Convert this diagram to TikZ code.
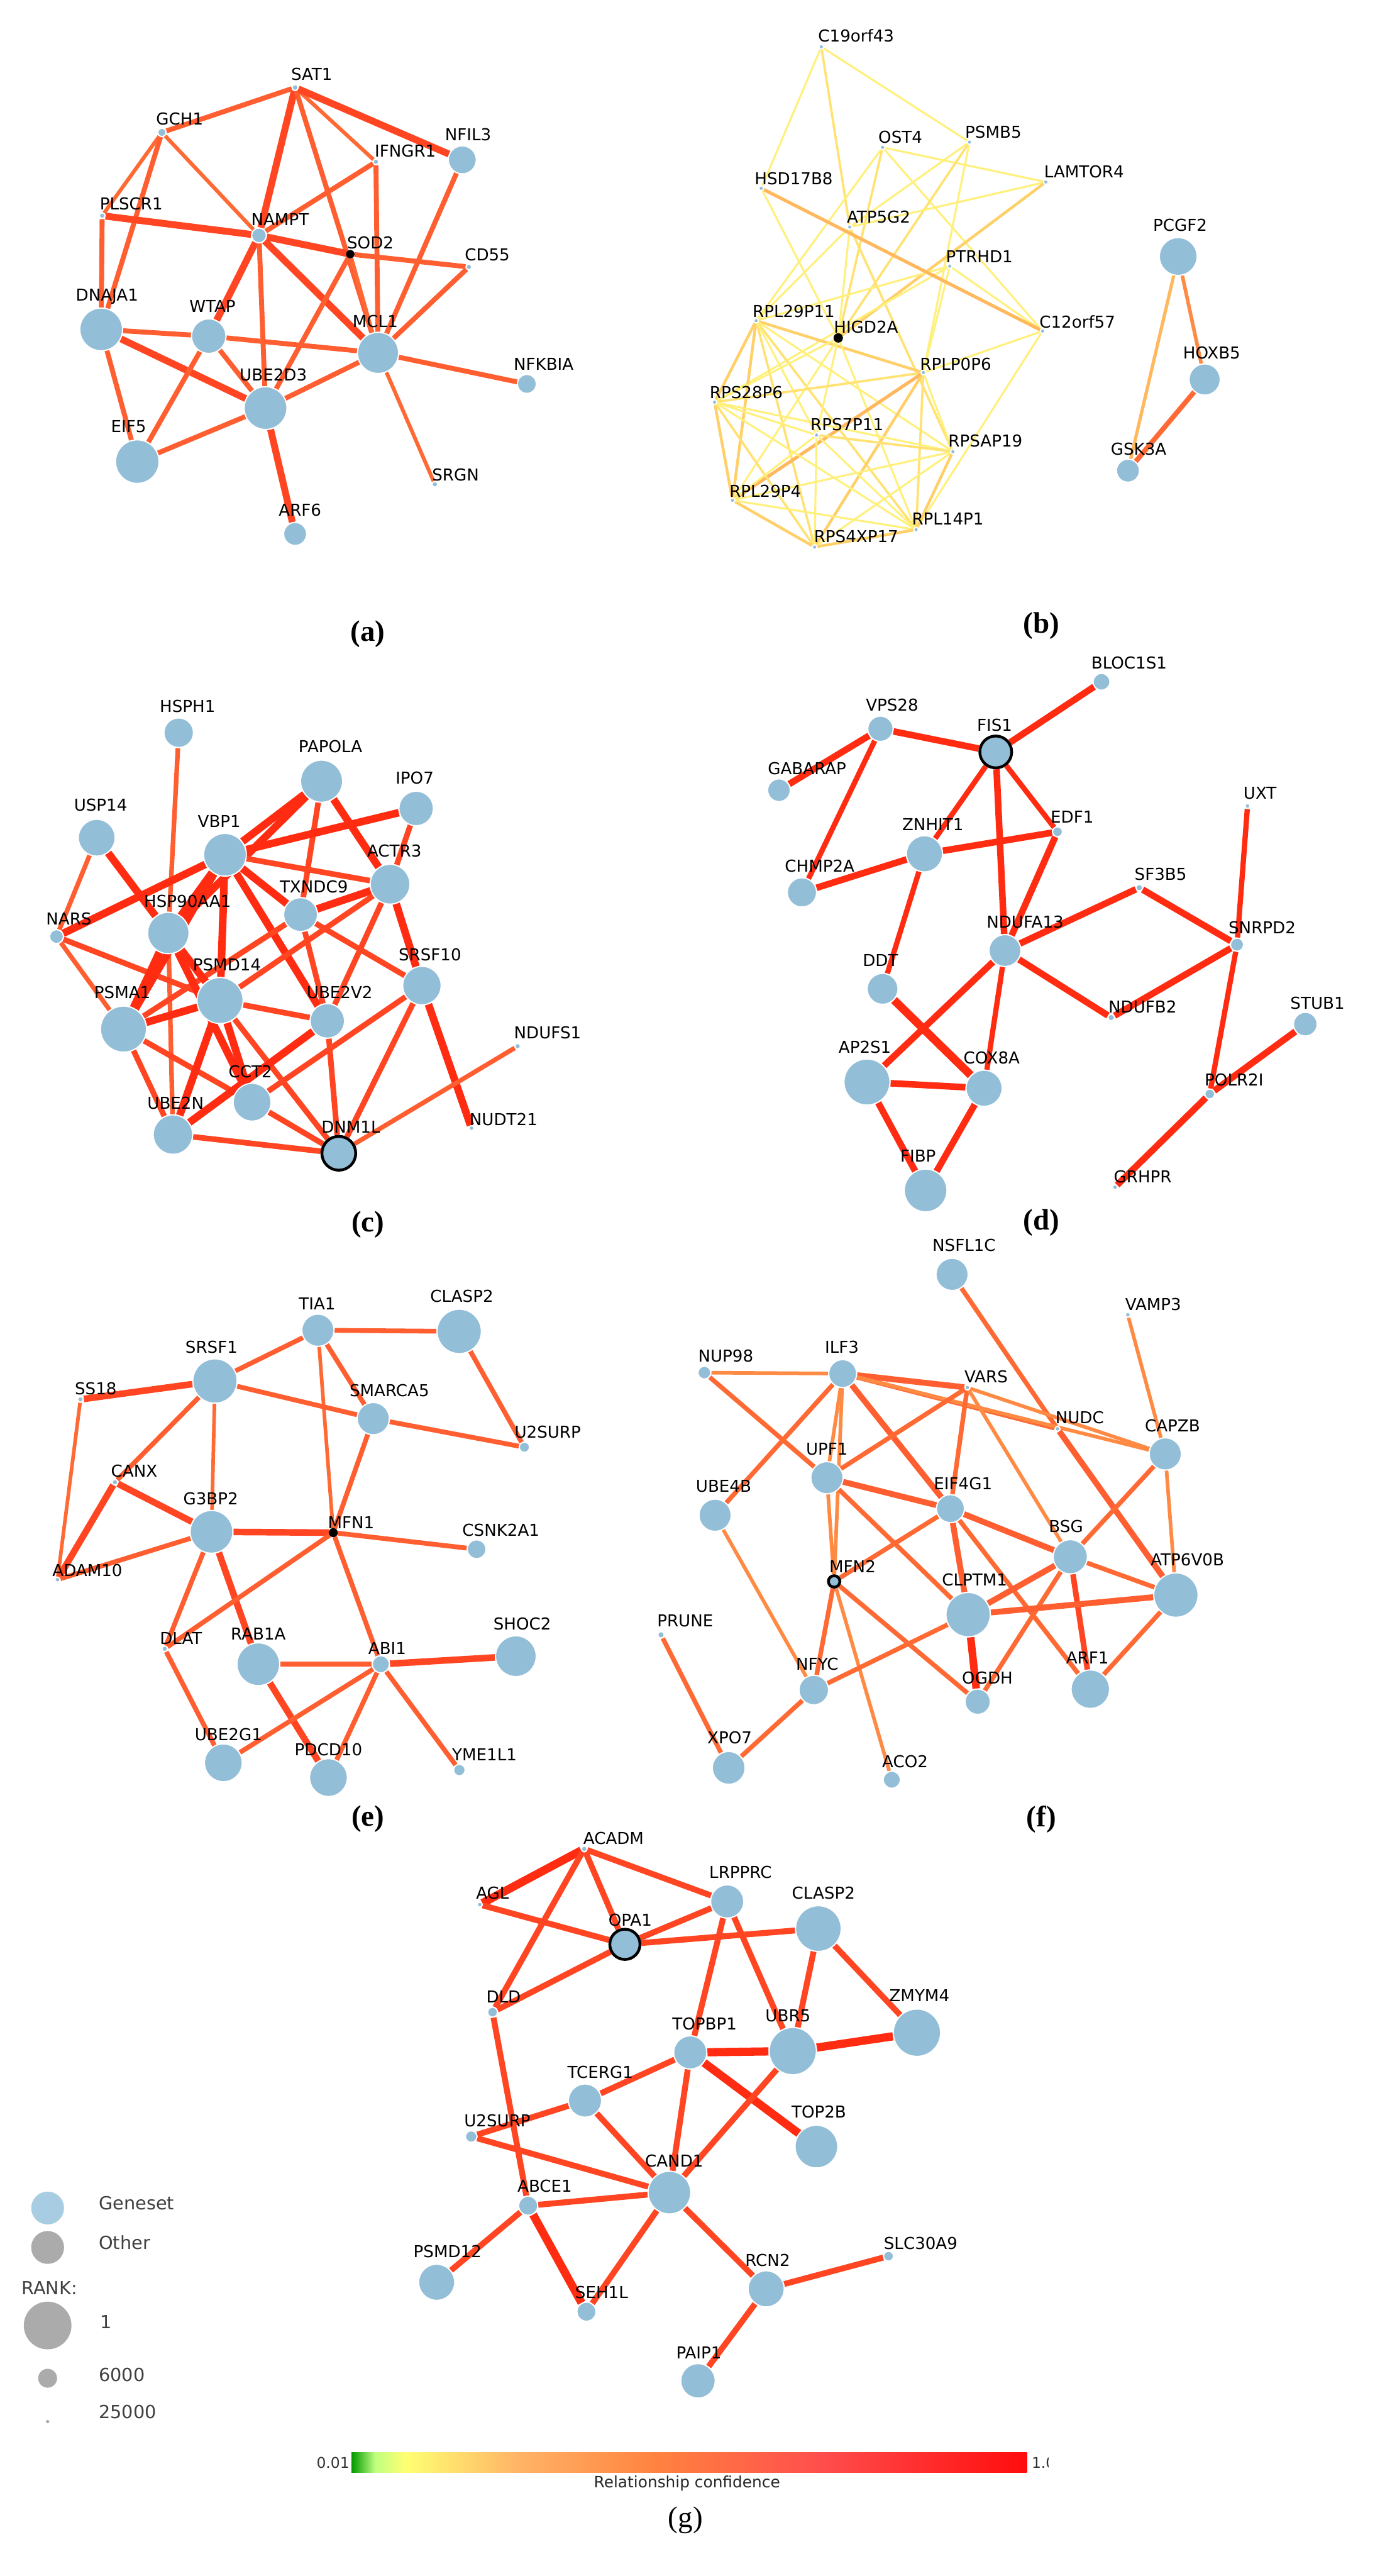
\documentclass[tikz,border=0pt]{standalone}
\usepackage{fontspec}
\setmainfont{DejaVu Sans}
\newfontfamily\panelfont{Liberation Serif}
\usetikzlibrary{backgrounds}
\pgfdeclarelayer{edgelayer}
\pgfsetlayers{background,edgelayer,main}
\definecolor{nodeblue}{HTML}{93BED8}
\definecolor{leggray}{HTML}{ABABAB}
\definecolor{legblue}{HTML}{A8CDE3}
\definecolor{rA}{HTML}{FF2C12}
\definecolor{rB}{HTML}{FF4522}
\definecolor{rC}{HTML}{FF5E30}
\definecolor{oA}{HTML}{FF6A34}
\definecolor{oB}{HTML}{FF8A44}
\definecolor{yA}{HTML}{FFF07C}
\definecolor{yB}{HTML}{FFE272}
\definecolor{yC}{HTML}{FFCF68}
\definecolor{yD}{HTML}{FFB85E}
\pgfdeclarehorizontalshading{confbar}{100bp}{color(0bp)=(green!60!black); color(25bp)=(green!60!black); color(26.75bp)=(yellow!50!green!50!white); color(29bp)=(yellow!55!white); color(37.5bp)=(orange!60!white); color(47.5bp)=(orange!70!red!75!white); color(60bp)=(red!70!white); color(75bp)=(red!95!white); color(100bp)=(red!95!white)}
\tikzset{
  gn/.style={circle, inner sep=0pt, fill=nodeblue, draw=white, line width=0.7pt},
  gk/.style={circle, inner sep=0pt, fill=black, draw=black, line width=0.5pt},
  gr/.style={circle, inner sep=0pt, fill=nodeblue, draw=black, line width=1.7pt},
  lbl/.style={inner sep=0pt, font=\fontsize{10}{11}\selectfont, text height=7.3pt, text depth=0pt},
  plab/.style={inner sep=0pt, font=\panelfont\bfseries\fontsize{18}{20}\selectfont},
  A1/.style={draw=rB, line width=4.2pt}, A2/.style={draw=rC, line width=3.0pt}, A3/.style={draw=oA, line width=2.3pt},
  B1/.style={draw=yA, line width=1.2pt}, B2/.style={draw=yB, line width=1.4pt}, B3/.style={draw=yC, line width=1.7pt}, B4/.style={draw=yD, line width=2.0pt},
  C1/.style={draw=rA, line width=4.6pt}, C2/.style={draw=rB, line width=3.4pt}, C3/.style={draw=rC, line width=2.8pt},
  D1/.style={draw=rA, line width=4.0pt}, D2/.style={draw=rA, line width=3.2pt},
  E1/.style={draw=rB, line width=4.0pt}, E2/.style={draw=rC, line width=2.9pt}, E3/.style={draw=oA, line width=2.2pt},
  F1/.style={draw=rC, line width=3.6pt}, F2/.style={draw=oA, line width=2.8pt}, F3/.style={draw=oB, line width=2.2pt},
  G1/.style={draw=rA, line width=5.0pt}, G2/.style={draw=rB, line width=3.6pt},
  legtext/.style={inner sep=0pt, anchor=west, text=black!75, font=\fontsize{11}{12}\selectfont}
}
\newcommand{\gnd}[8]{\node[#2, minimum size=#5pt] (#1) at (#3,#4) {};\node[lbl] (#1-l) at (#6,#7) {#8};}
\begin{document}
\begin{tikzpicture}[x=1pt,y=-1pt]
\begin{pgfonlayer}{background}
\fill[white] (0,0) rectangle (840,1568);
\end{pgfonlayer}
\path[use as bounding box] (0,0) rectangle (840,1568);
% ---------------- panel (a)
\gnd{SAT1}{gn}{179.7}{53.3}{3.6}{189.8}{45.2}{SAT1}
\gnd{GCH1}{gn}{98.6}{80.6}{5}{109.4}{72.3}{GCH1}
\gnd{NFIL3}{gn}{281.5}{97.3}{17}{285}{81.8}{NFIL3}
\gnd{IFNGR1}{gn}{228.9}{98.5}{3.4}{246.8}{92}{IFNGR1}
\gnd{PLSCR1}{gn}{62.2}{131.3}{3.4}{79.9}{124.2}{PLSCR1}
\gnd{NAMPT}{gn}{157.7}{143.3}{9}{170.5}{133.4}{NAMPT}
\gnd{SOD2}{gk}{213.3}{154.7}{4.6}{225.5}{147.6}{SOD2}
\gnd{CD55}{gn}{285.5}{162.5}{3.4}{296.7}{155.1}{CD55}
\gnd{DNAJA1}{gn}{61.6}{200.5}{26}{65.2}{179.6}{DNAJA1}
\gnd{WTAP}{gn}{127.1}{204.6}{21}{129.4}{186.3}{WTAP}
\gnd{MCL1}{gn}{230.2}{214.8}{25}{228.5}{195.5}{MCL1}
\gnd{NFKBIA}{gn}{320.8}{233.7}{11.5}{331}{221.5}{NFKBIA}
\gnd{UBE2D3}{gn}{161.7}{248.4}{26}{166.4}{228}{UBE2D3}
\gnd{EIF5}{gn}{83.6}{281}{26.5}{78.3}{259.6}{EIF5}
\gnd{SRGN}{gn}{264.8}{294.8}{3.4}{277.4}{289}{SRGN}
\gnd{ARF6}{gn}{179.7}{325}{14}{182.7}{310.5}{ARF6}
\begin{pgfonlayer}{edgelayer}
\draw[A2] (SAT1)--(GCH1); \draw[A1] (SAT1)--(NAMPT); \draw[A2] (SAT1)--(MCL1);
\draw[A3] (SAT1)--(IFNGR1); \draw[A1] (SAT1)--(NFIL3); \draw[A3] (GCH1)--(PLSCR1);
\draw[A2] (GCH1)--(DNAJA1); \draw[A3] (GCH1)--(NAMPT); \draw[A2] (IFNGR1)--(NAMPT);
\draw[A2] (IFNGR1)--(MCL1); \draw[A2] (NFIL3)--(MCL1); \draw[A1] (PLSCR1)--(NAMPT);
\draw[A2] (PLSCR1)--(DNAJA1); \draw[A1] (NAMPT)--(SOD2); \draw[A2] (SOD2)--(CD55);
\draw[A1] (NAMPT)--(WTAP); \draw[A2] (NAMPT)--(UBE2D3); \draw[A1] (NAMPT)--(MCL1);
\draw[A2] (SOD2)--(UBE2D3); \draw[A3] (SOD2)--(MCL1); \draw[A2] (CD55)--(MCL1);
\draw[A2] (DNAJA1)--(WTAP); \draw[A1] (DNAJA1)--(UBE2D3); \draw[A2] (DNAJA1)--(EIF5);
\draw[A2] (WTAP)--(MCL1); \draw[A2] (WTAP)--(UBE2D3); \draw[A2] (WTAP)--(EIF5);
\draw[A2] (MCL1)--(UBE2D3); \draw[A2] (MCL1)--(NFKBIA); \draw[A3] (MCL1)--(SRGN);
\draw[A2] (UBE2D3)--(EIF5); \draw[A1] (UBE2D3)--(ARF6);
\end{pgfonlayer}
% ---------------- panel (b)
\gnd{C19}{gn}{500.1}{28.5}{2.8}{521.3}{21.7}{C19orf43}
\gnd{OST4}{gn}{537.4}{89.7}{2.8}{548.2}{83.3}{OST4}
\gnd{PSMB5}{gn}{590.3}{86.5}{2.8}{604.8}{80.2}{PSMB5}
\gnd{HSD}{gn}{463.5}{114.6}{2.8}{483.3}{108.7}{HSD17B8}
\gnd{LAMTOR4}{gn}{636.8}{110.8}{2.8}{660.1}{104.4}{LAMTOR4}
\gnd{ATP5G2}{gn}{517.4}{138.2}{2.8}{535}{131.9}{ATP5G2}
\gnd{PTRHD1}{gn}{578.3}{162}{2.8}{596.3}{156.1}{PTRHD1}
\gnd{PCGF2}{gn}{717.4}{156.1}{23}{718.6}{137.2}{PCGF2}
\gnd{RPL29P11}{gn}{460.4}{195.2}{2.8}{483.3}{189.3}{RPL29P11}
\gnd{HIGD2A}{gk}{510.4}{205.7}{5.2}{527.3}{199}{HIGD2A}
\gnd{C12}{gn}{634.8}{201.5}{2.8}{656}{195.8}{C12orf57}
\gnd{RPLP0P6}{gn}{562.2}{226.8}{2.8}{581.9}{221.6}{RPLP0P6}
\gnd{HOXB5}{gn}{733.5}{231}{19}{737.8}{214.6}{HOXB5}
\gnd{RPS28P6}{gn}{435.1}{244.8}{2.8}{454.4}{238.9}{RPS28P6}
\gnd{RPS7P11}{gn}{497.2}{264.8}{2.8}{515.7}{258.5}{RPS7P11}
\gnd{RPSAP19}{gn}{580.2}{274.9}{2.8}{600}{268.4}{RPSAP19}
\gnd{GSK3A}{gn}{686.8}{286.5}{14}{693.3}{273.5}{GSK3A}
\gnd{RPL29P4}{gn}{446}{304.5}{2.8}{466}{298.8}{RPL29P4}
\gnd{RPL14P1}{gn}{557.8}{322.4}{2.8}{577.1}{315.9}{RPL14P1}
\gnd{RPS4XP17}{gn}{496}{333}{2.8}{521.3}{326.6}{RPS4XP17}
\begin{pgfonlayer}{edgelayer}
\draw[B1] (C19)--(HSD); \draw[B1] (C19)--(PSMB5); \draw[B2] (C19)--(ATP5G2);
\draw[B1] (OST4)--(LAMTOR4); \draw[B1] (OST4)--(RPL29P11); \draw[B2] (OST4)--(HIGD2A);
\draw[B1] (OST4)--(C12); \draw[B1] (PSMB5)--(ATP5G2); \draw[B2] (PSMB5)--(HIGD2A);
\draw[B1] (PSMB5)--(RPLP0P6); \draw[B1] (LAMTOR4)--(ATP5G2); \draw[B3] (LAMTOR4)--(HIGD2A);
\draw[B1] (ATP5G2)--(RPL29P11); \draw[B1] (ATP5G2)--(HIGD2A); \draw[B2] (ATP5G2)--(RPSAP19);
\draw[B1] (PTRHD1)--(RPL29P11); \draw[B1] (PTRHD1)--(C12); \draw[B1] (PTRHD1)--(RPLP0P6);
\draw[B1] (PTRHD1)--(RPS28P6); \draw[B1] (C12)--(RPLP0P6); \draw[B1] (C12)--(RPL14P1);
\draw[B4] (HSD)--(C12); \draw[B1] (HSD)--(HIGD2A);
\draw[B3] (RPL29P11)--(RPLP0P6); \draw[B3] (RPL29P11)--(RPS28P6); \draw[B3] (RPL29P11)--(RPL29P4);
\draw[B2] (RPL29P11)--(RPS4XP17); \draw[B1] (RPL29P11)--(RPSAP19); \draw[B2] (RPL29P11)--(RPL14P1);
\draw[B1] (RPL29P11)--(RPS7P11); \draw[B1] (HIGD2A)--(RPS7P11); \draw[B1] (HIGD2A)--(RPL14P1);
\draw[B1] (HIGD2A)--(RPL29P4); \draw[B1] (HIGD2A)--(RPS28P6);
\draw[B2] (RPLP0P6)--(RPS28P6); \draw[B4] (RPLP0P6)--(RPL29P4); \draw[B3] (RPLP0P6)--(RPS4XP17);
\draw[B2] (RPLP0P6)--(RPL14P1); \draw[B1] (RPLP0P6)--(RPSAP19);
\draw[B1] (RPS28P6)--(RPS7P11); \draw[B1] (RPS28P6)--(RPSAP19); \draw[B3] (RPS28P6)--(RPL29P4);
\draw[B2] (RPS28P6)--(RPS4XP17); \draw[B1] (RPS28P6)--(RPL14P1);
\draw[B2] (RPS7P11)--(RPSAP19); \draw[B1] (RPS7P11)--(RPL29P4); \draw[B1] (RPS7P11)--(RPS4XP17);
\draw[B1] (RPS7P11)--(RPL14P1); \draw[B1] (RPSAP19)--(RPL29P4); \draw[B1] (RPSAP19)--(RPS4XP17);
\draw[B3] (RPSAP19)--(RPL14P1); \draw[B3] (RPL29P4)--(RPS4XP17); \draw[B1] (RPL29P4)--(RPL14P1);
\draw[B3] (RPS4XP17)--(RPL14P1);
\draw[B4] (PCGF2)--(GSK3A); \draw[draw=oB, line width=2.2pt] (PCGF2)--(HOXB5);
\draw[draw=oA, line width=3pt] (HOXB5)--(GSK3A);
\end{pgfonlayer}
% ---------------- panel (c)
\gnd{HSPH1}{gn}{108.8}{446.0}{18}{114.2}{430.0}{HSPH1}
\gnd{PAPOLA}{gn}{195.8}{475.5}{25.6}{201.2}{454.2}{PAPOLA}
\gnd{IPO7}{gn}{253.4}{492.1}{21}{252.5}{473.7}{IPO7}
\gnd{USP14}{gn}{58.9}{509.9}{22.4}{61.3}{490}{USP14}
\gnd{VBP1}{gn}{137.0}{520.3}{26}{133.5}{500.1}{VBP1}
\gnd{ACTR3}{gn}{237.5}{538.2}{24.2}{240.1}{518.1}{ACTR3}
\gnd{TXNDC9}{gn}{183.0}{556.7}{20.6}{191.1}{539.8}{TXNDC9}
\gnd{NARS}{gn}{34.4}{570.1}{8.4}{41.9}{559.2}{NARS}
\gnd{HSP90AA1}{gn}{102.5}{567.9}{25.2}{114.2}{548.4}{HSP90AA1}
\gnd{SRSF10}{gn}{256.9}{599.9}{23.4}{261.8}{580.9}{SRSF10}
\gnd{PSMD14}{gn}{134.0}{609.0}{28}{138.2}{587.4}{PSMD14}
\gnd{PSMA1}{gn}{75.2}{626.4}{28}{74.5}{604.1}{PSMA1}
\gnd{UBE2V2}{gn}{199.3}{621.4}{21}{206.8}{604.1}{UBE2V2}
\gnd{NDUFS1}{gn}{315.2}{636.8}{3.4}{333.4}{628.5}{NDUFS1}
\gnd{CCT2}{gn}{153.5}{670.9}{23}{152.4}{652.3}{CCT2}
\gnd{UBE2N}{gn}{105.3}{690.6}{24}{106.9}{671.5}{UBE2N}
\gnd{DNM1L}{gr}{206.3}{702.0}{20.6}{213.6}{686.0}{DNM1L}
\gnd{NUDT21}{gn}{287.1}{686.7}{3}{306.6}{681.3}{NUDT21}
\begin{pgfonlayer}{edgelayer}
\draw[C3] (HSPH1)--(HSP90AA1); \draw[C3] (HSP90AA1)--(UBE2N); \draw[C3] (USP14)--(NARS);
\draw[C1] (USP14)--(HSP90AA1); \draw[C1] (NARS)--(VBP1); \draw[C2] (NARS)--(PSMD14);
\draw[C3] (NARS)--(PSMA1); \draw[C1] (PAPOLA)--(VBP1); \draw[C1] (PAPOLA)--(HSP90AA1);
\draw[C2] (PAPOLA)--(TXNDC9); \draw[C1] (PAPOLA)--(ACTR3); \draw[C1] (VBP1)--(IPO7);
\draw[C2] (VBP1)--(ACTR3); \draw[C1] (VBP1)--(HSP90AA1); \draw[C1] (VBP1)--(PSMD14);
\draw[C1] (VBP1)--(TXNDC9); \draw[C1] (VBP1)--(UBE2V2); \draw[C1] (VBP1)--(PSMA1);
\draw[C2] (IPO7)--(ACTR3); \draw[C1] (ACTR3)--(TXNDC9); \draw[C2] (ACTR3)--(PSMD14);
\draw[C2] (ACTR3)--(UBE2V2); \draw[C1] (ACTR3)--(SRSF10); \draw[C2] (TXNDC9)--(PSMA1);
\draw[C2] (TXNDC9)--(SRSF10); \draw[C2] (TXNDC9)--(UBE2V2); \draw[C1] (HSP90AA1)--(PSMA1);
\draw[C1] (HSP90AA1)--(PSMD14); \draw[C1] (HSP90AA1)--(CCT2); \draw[C1] (PSMA1)--(PSMD14);
\draw[C2] (PSMA1)--(UBE2N); \draw[C2] (PSMA1)--(CCT2); \draw[C2] (PSMD14)--(UBE2V2);
\draw[C1] (PSMD14)--(UBE2N); \draw[C1] (PSMD14)--(CCT2); \draw[C2] (PSMD14)--(DNM1L);
\draw[C1] (UBE2V2)--(UBE2N); \draw[C2] (UBE2V2)--(DNM1L); \draw[C2] (SRSF10)--(CCT2);
\draw[C2] (SRSF10)--(DNM1L); \draw[C1] (SRSF10)--(NUDT21); \draw[C3] (NDUFS1)--(DNM1L);
\draw[C2] (UBE2N)--(DNM1L); \draw[C2] (CCT2)--(DNM1L);
\end{pgfonlayer}
% ---------------- panel (d)
\gnd{BLOC1S1}{gn}{670.7}{415.0}{10.2}{687.5}{403.3}{BLOC1S1}
\gnd{VPS28}{gn}{536.1}{443.6}{15.4}{543.2}{429.1}{VPS28}
\gnd{FIS1}{gr}{606.3}{457.7}{19.4}{605.6}{441.4}{FIS1}
\gnd{GABARAP}{gn}{474.3}{481.0}{13.8}{491.4}{467.6}{GABARAP}
\gnd{UXT}{gn}{759.6}{490.6}{3}{767.2}{482.8}{UXT}
\gnd{EDF1}{gn}{643.9}{506.3}{6}{652.8}{497.4}{EDF1}
\gnd{ZNHIT1}{gn}{562.9}{519.7}{22}{568.0}{501.8}{ZNHIT1}
\gnd{CHMP2A}{gn}{488.3}{543.2}{17.8}{499.1}{527.1}{CHMP2A}
\gnd{SF3B5}{gn}{693.7}{540.3}{4}{706.7}{532.1}{SF3B5}
\gnd{NDUFA13}{gn}{611.9}{578.6}{19.4}{624.2}{561.2}{NDUFA13}
\gnd{SNRPD2}{gn}{753.2}{575.0}{8}{768.5}{564.5}{SNRPD2}
\gnd{DDT}{gn}{537.4}{601.9}{18.8}{536.1}{584.7}{DDT}
\gnd{NDUFB2}{gn}{676.6}{619.4}{4}{695.7}{612.7}{NDUFB2}
\gnd{STUB1}{gn}{794.8}{623.4}{14.4}{802.2}{610.4}{STUB1}
\gnd{AP2S1}{gn}{527.9}{658.6}{28}{526.6}{637.3}{AP2S1}
\gnd{COX8A}{gn}{599.2}{662.4}{22}{603.8}{644.0}{COX8A}
\gnd{POLR2I}{gn}{736.6}{665.9}{6}{751.4}{657.4}{POLR2I}
\gnd{FIBP}{gn}{563.6}{724.6}{26}{559}{703.6}{FIBP}
\gnd{GRHPR}{gn}{678.9}{722.6}{3}{695.8}{716.3}{GRHPR}
\begin{pgfonlayer}{edgelayer}
\draw[D1] (VPS28)--(FIS1); \draw[D1] (VPS28)--(GABARAP); \draw[D2] (VPS28)--(CHMP2A);
\draw[D1] (FIS1)--(BLOC1S1); \draw[D2] (FIS1)--(ZNHIT1); \draw[D1] (FIS1)--(NDUFA13);
\draw[D2] (FIS1)--(EDF1); \draw[D1] (ZNHIT1)--(EDF1); \draw[D1] (ZNHIT1)--(CHMP2A);
\draw[D2] (ZNHIT1)--(DDT); \draw[D1] (EDF1)--(NDUFA13); \draw[D1] (NDUFA13)--(SF3B5);
\draw[D1] (NDUFA13)--(NDUFB2); \draw[D1] (NDUFA13)--(AP2S1); \draw[D2] (NDUFA13)--(COX8A);
\draw[D1] (SF3B5)--(SNRPD2); \draw[D1] (NDUFB2)--(SNRPD2); \draw[D2] (UXT)--(SNRPD2);
\draw[D2] (SNRPD2)--(POLR2I); \draw[D1] (STUB1)--(POLR2I); \draw[D1] (POLR2I)--(GRHPR);
\draw[D1, line width=5pt] (DDT)--(COX8A); \draw[D1] (AP2S1)--(COX8A); \draw[D1] (AP2S1)--(FIBP);
\draw[D1] (COX8A)--(FIBP);
\end{pgfonlayer}
% ---------------- panel (e)
\gnd{TIA1}{gn}{193.6}{809.7}{19.6}{193.1}{793.6}{TIA1}
\gnd{CLASP2}{gn}{279.6}{810.4}{27}{281.2}{789.1}{CLASP2}
\gnd{SRSF1}{gn}{130.9}{840.6}{27}{128.8}{820.0}{SRSF1}
\gnd{SS18}{gn}{49.0}{851.8}{3.4}{58.3}{845.1}{SS18}
\gnd{SMARCA5}{gn}{227.3}{863.5}{19.6}{237.1}{846.2}{SMARCA5}
\gnd{U2SURP}{gn}{319.3}{880.9}{6.2}{333.5}{871.5}{U2SURP}
\gnd{CANX}{gn}{70.0}{902.2}{3.4}{81.7}{895.5}{CANX}
\gnd{G3BP2}{gn}{128.8}{932.4}{26}{128.3}{912.3}{G3BP2}
\gnd{MFN1}{gk}{202.9}{932.9}{5}{213.8}{926.8}{MFN1}
\gnd{CSNK2A1}{gn}{290.2}{943.0}{11.4}{305.0}{931.3}{CSNK2A1}
\gnd{ADAM10}{gn}{35.0}{961.5}{3}{53.2}{955.9}{ADAM10}
\gnd{DLAT}{gn}{100.3}{1003.6}{3.4}{110.2}{997.3}{DLAT}
\gnd{RAB1A}{gn}{157.3}{1013.0}{26}{157.3}{994.4}{RAB1A}
\gnd{ABI1}{gn}{231.9}{1013.0}{10.4}{235.8}{1003.4}{ABI1}
\gnd{SHOC2}{gn}{314.1}{1008.1}{24.8}{318.0}{988.4}{SHOC2}
\gnd{UBE2G1}{gn}{136}{1073}{23}{139.1}{1055.9}{UBE2G1}
\gnd{PDCD10}{gn}{200}{1082}{23}{200}{1065}{PDCD10}
\gnd{YME1L1}{gn}{279.7}{1077.4}{7}{295.0}{1068.1}{YME1L1}
\begin{pgfonlayer}{edgelayer}
\draw[E2] (TIA1)--(CLASP2); \draw[E2] (TIA1)--(SRSF1); \draw[E2] (TIA1)--(SMARCA5);
\draw[E3] (TIA1)--(MFN1); \draw[E2] (CLASP2)--(U2SURP); \draw[E1] (SRSF1)--(SS18);
\draw[E2] (SRSF1)--(SMARCA5); \draw[E2] (SRSF1)--(CANX); \draw[E3] (SRSF1)--(G3BP2);
\draw[E3] (SS18)--(ADAM10); \draw[E2] (SMARCA5)--(U2SURP); \draw[E2] (SMARCA5)--(MFN1);
\draw[E1] (CANX)--(ADAM10); \draw[E1] (CANX)--(G3BP2); \draw[E1] (G3BP2)--(MFN1);
\draw[E2] (G3BP2)--(ADAM10); \draw[E2] (G3BP2)--(DLAT); \draw[E1] (G3BP2)--(RAB1A);
\draw[E2] (MFN1)--(CSNK2A1); \draw[E2] (MFN1)--(DLAT); \draw[E2] (MFN1)--(ABI1);
\draw[E2] (RAB1A)--(ABI1); \draw[E1] (RAB1A)--(PDCD10); \draw[E1] (ABI1)--(SHOC2);
\draw[E2] (ABI1)--(UBE2G1); \draw[E2] (ABI1)--(PDCD10); \draw[E2] (ABI1)--(YME1L1);
\draw[E2] (DLAT)--(UBE2G1);
\end{pgfonlayer}
% ---------------- panel (f)
\gnd{NSFL1C}{gn}{579.7}{775.7}{19.6}{587}{757.8}{NSFL1C}
\gnd{VAMP3}{gn}{686.7}{800.3}{3}{702.2}{794.0}{VAMP3}
\gnd{NUP98}{gn}{428.9}{835.5}{7.8}{441.9}{825.4}{NUP98}
\gnd{ILF3}{gn}{513.1}{836.1}{17}{512.6}{820.0}{ILF3}
\gnd{VARS}{gn}{589.0}{844.6}{3}{600.4}{837.9}{VARS}
\gnd{NUDC}{gn}{643.9}{869.7}{3}{657.4}{863.0}{NUDC}
\gnd{CAPZB}{gn}{709.5}{885.0}{19.6}{713.9}{867.9}{CAPZB}
\gnd{UPF1}{gn}{503.5}{899.5}{19.6}{503.5}{882.0}{UPF1}
\gnd{UBE4B}{gn}{435.4}{922.3}{19.6}{440.6}{904.4}{UBE4B}
\gnd{EIF4G1}{gn}{578.7}{918.3}{17}{586.4}{902.9}{EIF4G1}
\gnd{BSG}{gn}{651.7}{947.6}{20.8}{649.1}{929.1}{BSG}
\gnd{MFN2}{gr}{507.9}{962.6}{7}{519.1}{953.7}{MFN2}
\gnd{ATP6V0B}{gn}{716.0}{970.9}{27}{723.0}{949.2}{ATP6V0B}
\gnd{CLPTM1}{gn}{589.5}{982.8}{27}{593.4}{961.5}{CLPTM1}
\gnd{PRUNE}{gn}{402.5}{995.1}{4}{417.2}{986.6}{PRUNE}
\gnd{NFYC}{gn}{495.5}{1028.7}{18}{497.6}{1013.0}{NFYC}
\gnd{OGDH}{gn}{595.3}{1035.8}{15.4}{601.2}{1021.5}{OGDH}
\gnd{ARF1}{gn}{663.9}{1028.2}{23.4}{662.1}{1009.0}{ARF1}
\gnd{XPO7}{gn}{443.7}{1076.1}{20}{444.3}{1057.5}{XPO7}
\gnd{ACO2}{gn}{543.0}{1083.3}{10.4}{551.1}{1072.1}{ACO2}
\begin{pgfonlayer}{edgelayer}
\draw[F2] (NSFL1C)--(NUDC); \draw[F1] (NUDC)--(ATP6V0B); \draw[F3] (VAMP3)--(CAPZB);
\draw[F3] (NUP98)--(ILF3); \draw[F2] (NUP98)--(UPF1); \draw[F1] (ILF3)--(VARS);
\draw[F2] (ILF3)--(NUDC); \draw[F3] (ILF3)--(CAPZB); \draw[F3] (ILF3)--(UPF1);
\draw[F3] (ILF3)--(MFN2); \draw[F2] (ILF3)--(UBE4B); \draw[F1] (ILF3)--(EIF4G1);
\draw[F2] (VARS)--(UPF1); \draw[F2] (VARS)--(EIF4G1); \draw[F3] (VARS)--(BSG);
\draw[F3] (VARS)--(CAPZB); \draw[F1] (UPF1)--(EIF4G1); \draw[F2] (UPF1)--(CLPTM1);
\draw[F3] (UPF1)--(MFN2); \draw[F3] (UBE4B)--(NFYC); \draw[F2] (EIF4G1)--(MFN2);
\draw[F1] (EIF4G1)--(BSG); \draw[F1] (EIF4G1)--(CLPTM1); \draw[F2] (EIF4G1)--(ARF1);
\draw[F2] (CAPZB)--(BSG); \draw[F3] (CAPZB)--(ATP6V0B); \draw[F1] (BSG)--(CLPTM1);
\draw[F2] (BSG)--(ATP6V0B); \draw[C2] (BSG)--(ARF1); \draw[F2] (BSG)--(OGDH);
\draw[F2] (MFN2)--(NFYC); \draw[F2] (MFN2)--(OGDH); \draw[F3] (MFN2)--(ACO2);
\draw[F1] (CLPTM1)--(ATP6V0B); \draw[C1] (CLPTM1)--(OGDH); \draw[F2] (CLPTM1)--(NFYC);
\draw[F2] (ATP6V0B)--(ARF1); \draw[F2] (NFYC)--(XPO7); \draw[F2] (PRUNE)--(XPO7);
\end{pgfonlayer}
% ---------------- panel (g)
\gnd{ACADM}{gn}{355.7}{1125.4}{3.4}{373.6}{1118.8}{ACADM}
\gnd{LRPPRC}{gn}{442.8}{1157.4}{20.2}{450.9}{1139.5}{LRPPRC}
\gnd{AGL}{gn}{292.1}{1159.3}{3}{299.9}{1152.1}{AGL}
\gnd{CLASPg}{gn}{498.3}{1173.9}{27.8}{501.4}{1152.1}{CLASP2}
\gnd{OPA1}{gr}{380.5}{1183.5}{18.4}{383.7}{1168.6}{OPA1}
\gnd{DLD}{gn}{299.9}{1224.8}{6}{306.6}{1215.5}{DLD}
\gnd{ZMYM4}{gn}{558.3}{1237.3}{28.8}{559.8}{1214.7}{ZMYM4}
\gnd{TOPBP1}{gn}{420.3}{1249.3}{20.2}{429.0}{1232.0}{TOPBP1}
\gnd{UBR5}{gn}{482.7}{1248.5}{28.8}{479.8}{1226.7}{UBR5}
\gnd{TCERG1}{gn}{356.2}{1278.6}{20.2}{365.5}{1261.3}{TCERG1}
\gnd{U2SURPg}{gn}{286.9}{1300.5}{7}{302.8}{1290.7}{U2SURP}
\gnd{TOP2B}{gn}{497.1}{1306.6}{26}{498.6}{1285.3}{TOP2B}
\gnd{CAND1}{gn}{407.6}{1334.6}{26}{410.5}{1315.4}{CAND1}
\gnd{ABCE1}{gn}{321.6}{1342.6}{11.6}{331.7}{1330.6}{ABCE1}
\gnd{SLC30A9}{gn}{541.0}{1373.3}{6}{560.6}{1365.3}{SLC30A9}
\gnd{PSMD12}{gn}{265.9}{1389.2}{22}{272.5}{1370.6}{PSMD12}
\gnd{RCN2}{gn}{466.5}{1393.2}{22}{467.4}{1375.9}{RCN2}
\gnd{SEH1L}{gn}{357.1}{1407.1}{11.6}{366.3}{1395.4}{SEH1L}
\gnd{PAIP1}{gn}{425.0}{1449.2}{21}{425.5}{1431.9}{PAIP1}
\begin{pgfonlayer}{edgelayer}
\draw[G1] (ACADM)--(AGL); \draw[G2] (ACADM)--(OPA1); \draw[G2] (ACADM)--(LRPPRC);
\draw[G2] (ACADM)--(DLD); \draw[G2] (AGL)--(OPA1); \draw[G2] (OPA1)--(LRPPRC);
\draw[G2] (OPA1)--(CLASPg); \draw[G2] (OPA1)--(DLD); \draw[G2] (LRPPRC)--(TOPBP1);
\draw[G2] (LRPPRC)--(UBR5); \draw[G2] (CLASPg)--(UBR5); \draw[G2] (CLASPg)--(ZMYM4);
\draw[G2] (DLD)--(ABCE1); \draw[G1] (TOPBP1)--(UBR5); \draw[G1] (UBR5)--(ZMYM4);
\draw[G2] (TOPBP1)--(TCERG1); \draw[G1] (TOPBP1)--(TOP2B); \draw[G2] (TOPBP1)--(CAND1);
\draw[G2] (UBR5)--(CAND1); \draw[G2] (TCERG1)--(U2SURPg); \draw[G2] (TCERG1)--(CAND1);
\draw[G2] (U2SURPg)--(CAND1); \draw[G2] (ABCE1)--(CAND1); \draw[G2] (ABCE1)--(PSMD12);
\draw[G1] (ABCE1)--(SEH1L); \draw[G2] (CAND1)--(SEH1L); \draw[G2] (CAND1)--(RCN2);
\draw[G2] (RCN2)--(SLC30A9); \draw[G2] (RCN2)--(PAIP1);
\end{pgfonlayer}
% ---------------- panel labels
\node[plab] (la) at (224,386) {(a)};
\node[plab] (lb) at (634,381) {(b)};
\node[plab] (lc) at (224,745.5) {(c)};
\node[plab] (ld) at (634,744.3) {(d)};
\node[plab] (le) at (224,1107) {(e)};
\node[plab] (lf) at (634,1107.6) {(f)};
\node[inner sep=0pt, font=\panelfont\fontsize{18}{20}\selectfont] (lg) at (417.4,1534) {(g)};
% ---------------- legend
\node[circle, inner sep=0pt, minimum size=20pt, fill=legblue] (lgGene) at (29,1344) {};
\node[legtext] (lgGeneT) at (60,1341) {Geneset};
\node[circle, inner sep=0pt, minimum size=20pt, fill=leggray] (lgOther) at (29,1368) {};
\node[legtext] (lgOtherT) at (60,1365) {Other};
\node[legtext] (lgRank) at (13,1392.7) {RANK:};
\node[circle, inner sep=0pt, minimum size=29pt, fill=leggray] (lgR1) at (29,1415.5) {};
\node[legtext] (lgR1T) at (61,1413.4) {1};
\node[circle, inner sep=0pt, minimum size=11.5pt, fill=leggray] (lgR2) at (29,1447.6) {};
\node[legtext] (lgR2T) at (60,1445.5) {6000};
\node[circle, inner sep=0pt, minimum size=2pt, fill=leggray] (lgR3) at (29,1474) {};
\node[legtext] (lgR3T) at (60,1468) {25000};
% ---------------- colour bar
\shade[shading=confbar] (214,1492.8) rectangle (625.3,1505.1);
\node[inner sep=0pt, anchor=east, text=black!80, font=\fontsize{9}{10}\selectfont] (cb0) at (213,1499) {0.01};
\begin{scope}
\clip (626,1488) rectangle (638.5,1512);
\node[inner sep=0pt, anchor=west, text=black!80, font=\fontsize{9}{10}\selectfont] (cb1) at (628,1499) {1.0};
\end{scope}
\node[inner sep=0pt, text=black!85, font=\fontsize{9.5}{10}\selectfont] (cbT) at (418.3,1511.5) {Relationship confidence};
\end{tikzpicture}
\end{document}
